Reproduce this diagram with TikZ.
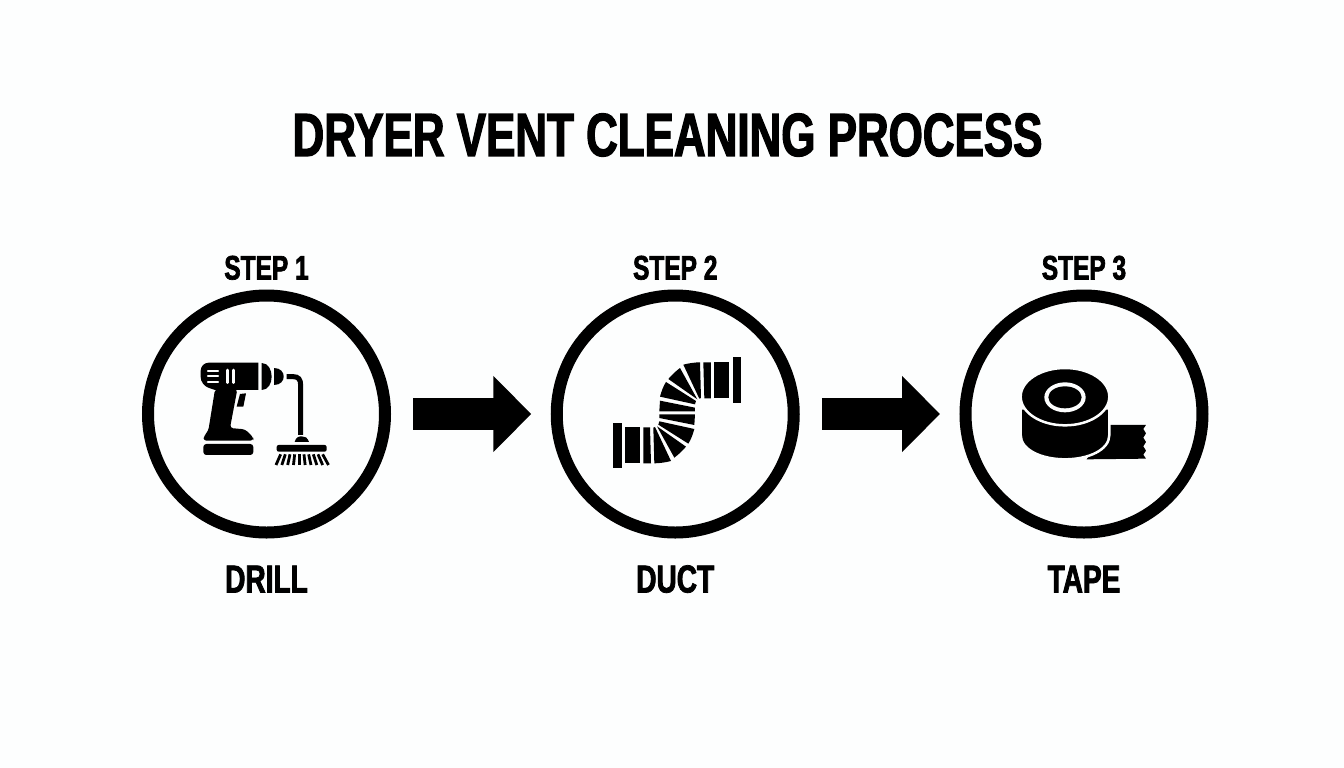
\documentclass[tikz,border=0pt]{standalone}
\usepackage{fontspec}
\setmainfont{Liberation Sans}[FakeStretch=0.72,BoldFeatures={FakeBold=2}]
\usetikzlibrary{arrows.meta,matrix}
\definecolor{paper}{HTML}{FDFEFE}
\tikzset{
	stepcircle/.style={circle,draw,line width=12pt,minimum size=237pt,inner sep=0pt},
	steplabel/.style={font=\bfseries\fontsize{34}{34}\selectfont,inner sep=0pt,text height=24pt,text depth=0pt},
	toollabel/.style={font=\bfseries\fontsize{39}{39}\selectfont,inner sep=0pt,text height=28pt,text depth=0pt},
	blockarrow/.style={line width=32pt,-{Triangle[length=38pt,width=74pt]},shorten <=22pt,shorten >=19.5pt},
	zoomed/.style={x=0.3333pt,y=-0.3333pt},
}
\begin{document}
\begin{tikzpicture}[x=1pt,y=-1pt]
	\fill[paper] (0,0) rectangle (1344,768);
	\node[font=\bfseries\fontsize{61}{61}\selectfont,inner sep=0pt] (title) at (667.5,135) {DRYER VENT CLEANING PROCESS};
	\matrix (flow) [matrix of nodes,column sep=159.75pt,row sep=10pt,anchor=center] at (675.25,424)
	{
		|[steplabel]| STEP 1 & |[steplabel]| STEP 2 & |[steplabel]| STEP 3 \\
		|[stepcircle]|       & |[stepcircle]|       & |[stepcircle]|       \\[16pt]
		|[toollabel]| DRILL  & |[toollabel]| DUCT   & |[toollabel]| TAPE   \\
	};
	\draw[blockarrow] (flow-2-1)--(flow-2-2);
	\draw[blockarrow] (flow-2-2)--(flow-2-3);
	%% drill
	\begin{scope}[shift={(180,340)},zoomed]
		\fill (235,68) -- (235,150) -- (105,150) [rounded corners=8pt] -- (62,135) -- (62,68) [sharp corners] -- cycle;
		\fill[rounded corners=3pt] (105,148) -- (172,148) -- (150,264) -- (195,268) -- (220,292) -- (220,302) -- (70,302) -- (72,288) -- (85,272) -- cycle;
		\fill[rounded corners=3pt] (70,312) -- (220,312) -- (220,345) -- (70,345) -- cycle;
		\fill (245,69) .. controls (285,70) and (285,150) .. (245,150) -- cycle;
		\fill (282,85) .. controls (320,85) and (320,135) .. (282,135) -- cycle;
		\fill (180,162) -- (198,160) -- (190,200) -- (170,200) -- cycle;
		\draw[line width=5pt] (320,110) -- (340,110) .. controls (355,110) and (362,118) .. (362,135) -- (362,285);
		\fill (344,306) .. controls (348,292) and (355,289) .. (365,289) .. controls (375,289) and (382,292) .. (387,306) -- cycle;
		\fill[rounded corners=2pt] (290,335) -- (290,315) -- (440,315) -- (440,335) -- cycle;
		\foreach \i in {0,...,9}
			\draw[line width=2.8pt] ({302+\i*14},343) -- ({288+\i*17.5},375);
		\foreach \y in {92,108,125}
			\draw[paper,line width=2.2pt,line cap=round] (84,\y) -- (114,\y);
		\foreach \x in {142,161}
			\draw[paper,line width=2.6pt,line cap=round] (\x,90) -- (\x,128);
	\end{scope}
	%% duct, the lower half is the upper half turned round
	\begin{scope}[shift={(600,340)},zoomed]
		\foreach \turn in {0,180}{
		\begin{scope}[rotate around={\turn:(231.5,218.5)}]
			\fill (398,52) rectangle (423,188);
			\fill (342,67) rectangle (388,175);
			\fill (310,67) -- (333,67) -- (333,175) -- (313,175) -- cycle;
			\fill (250,74) .. controls (265,70) and (285,67) .. (300,67) -- (303,174) -- (298,176) -- cycle;
			\fill (205,117) .. controls (215,105) and (228,93) .. (240,84) -- (292,178) -- cycle;
			\fill (180,170) .. controls (184,155) and (190,138) .. (198,126) -- (288,183) -- (285,193) -- cycle;
			\fill (180,182) -- (285,203) -- (285,214) -- (178,214) -- cycle;
		\end{scope}
		}
	\end{scope}
	%% tape
	\begin{scope}[shift={(1010,360)},zoomed]
		\fill (300,195) -- (408,195) -- (400,207) -- (408,220) -- (400,233) -- (408,246) -- (400,259) -- (408,272) -- (400,284) -- (408,296) -- (230,298) -- cycle;
		\filldraw[draw=paper,line width=2.5pt] (32,145) -- (32,225) .. controls (32,270) and (95,298) .. (165,298) .. controls (235,298) and (298,270) .. (298,225) -- (298,145) -- cycle;
		\filldraw[draw=paper,line width=2.5pt] (165,110) ellipse [x radius=133,y radius=86];
		\fill[paper] (165,112) ellipse [x radius=62,y radius=45];
		\fill (165,112) ellipse [x radius=50,y radius=33];
	\end{scope}
\end{tikzpicture}
\end{document}
